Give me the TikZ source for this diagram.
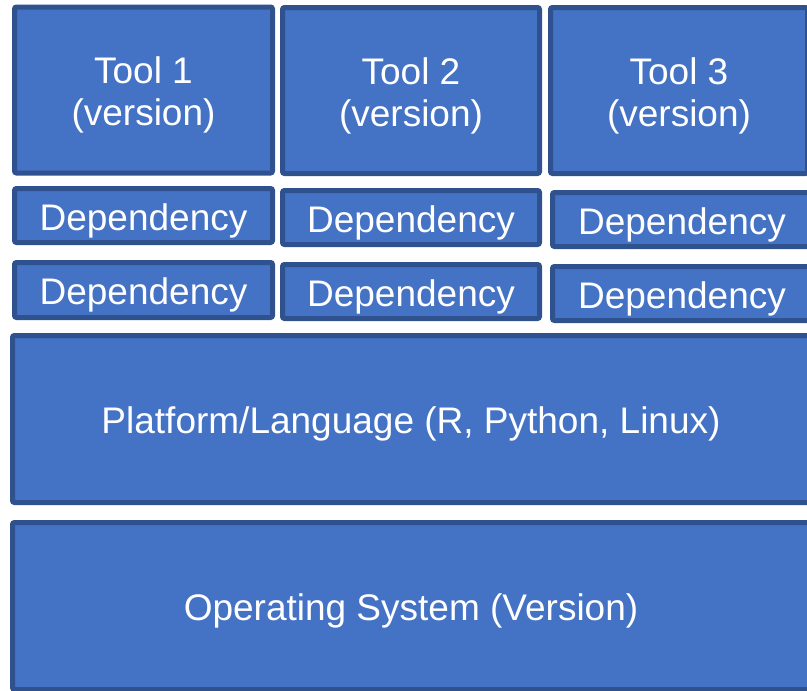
\documentclass[tikz,border=0pt]{standalone}
\usepackage{fontspec}
\setmainfont{Liberation Sans}
\usepackage{xcolor}
\definecolor{boxfill}{HTML}{4472C4}
\definecolor{boxline}{HTML}{2F528F}

\begin{document}
\begin{tikzpicture}[x=1pt, y=-1pt,
      every node/.append style={font=\fontsize{37}{42}\selectfont, text=white}]
    \tikzstyle{layer} = [draw=boxline, fill=boxfill, line width=5pt, rounded corners=2pt,
                         inner sep=0pt, align=center, text height=37pt]
    \tikzstyle{toolbox} = [layer, minimum width=257pt, minimum height=166pt, text height=79pt]
    \tikzstyle{depbox} = [layer, minimum width=258pt, minimum height=54pt]
    \tikzstyle{basebox} = [layer, minimum width=797pt, minimum height=167pt]
    \useasboundingbox (0,0) rectangle (807,691);
    \clip (0,0) rectangle (807,691);
    % tools
    \node (tool1) [toolbox, minimum width=258pt] at (143.5,90) {Tool 1\\(version)};
    \node (tool2) [toolbox] at (411,90.5) {Tool 2\\(version)};
    \node (tool3) [toolbox] at (679,90.5) {Tool 3\\(version)};
    % dependencies
    \node (dep11) [depbox] at (143.5,215.5) {Dependency};
    \node (dep12) [depbox, minimum width=257pt] at (411,217.5) {Dependency};
    \node (dep13) [depbox, minimum width=259pt] at (682,219.5) {Dependency};
    \node (dep21) [depbox, minimum height=55pt] at (143.5,290) {Dependency};
    \node (dep22) [depbox, minimum width=257pt] at (411,291.5) {Dependency};
    \node (dep23) [depbox, minimum width=259pt] at (682,293.5) {Dependency};
    % platform and os
    \node (platform) [basebox] at (411,419) {Platform/Language (R, Python, Linux)};
    \node (os) [basebox] at (411,606) {Operating System (Version)};
  \end{tikzpicture}
\end{document}
